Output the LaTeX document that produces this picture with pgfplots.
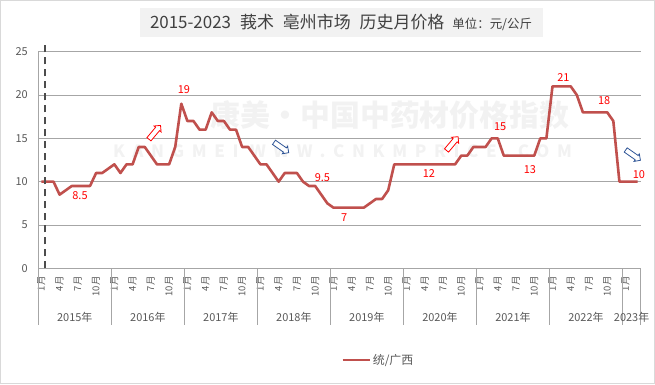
\documentclass[border=0pt]{standalone}
\usepackage{fontspec}
\setmainfont{Noto Sans CJK SC}
\usepackage{pgfplots}
\pgfplotsset{compat=1.18}
\usetikzlibrary{shapes.arrows}
\definecolor{linered}{HTML}{C0504D}
\definecolor{txtgray}{HTML}{595959}
\definecolor{titlegray}{HTML}{404040}
\definecolor{gridgray}{HTML}{A6A6A6}
\definecolor{titlebg}{HTML}{F2F2F2}
\definecolor{arrowblue}{HTML}{2F5597}
\definecolor{wm}{HTML}{F2F2F2}
\begin{document}
\begin{tikzpicture}[x=1bp,y=1bp]
% title box
\fill[titlebg] (101.7,231.3) rectangle (504.7,260.3);
\node[text=titlegray, inner sep=0pt] at (302.7,246.0)
  {{\fontsize{17}{17}\selectfont 2015-2023\hspace{9bp}莪术\hspace{9bp}亳州市场\hspace{9bp}历史月价格}\hspace{8bp}{\fontsize{12.5}{12.5}\selectfont 单位：元/公斤}};
% watermark
\node[text=wm, inner sep=0pt, font=\bfseries\fontsize{30}{30}\selectfont] at (351.7,153.3) {康美·中国中药材价格指数};
\node[text=wm, inner sep=0pt, font=\bfseries\fontsize{17}{17}\selectfont\addfontfeatures{LetterSpace=45}] at (304.2,116.8) {KANGMEI WWW.CNKMPRICE.COM};
\begin{axis}[
  at={(0,0)}, anchor=south west,
  scale only axis, width=602.4bp, height=216.6bp,
  xmin=-0.5, xmax=98.5, ymin=0, ymax=25,
  axis lines=left,
  axis line style={draw=gridgray, line width=0.8bp, -},
  ytick={0,5,10,15,20,25},
  ymajorgrids,
  grid style={gridgray, line width=0.8bp},
  major tick length=0pt,
  /pgf/number format/assume math mode=true,
  yticklabel style={font=\fontsize{11}{11}\selectfont, text=txtgray, xshift=-7bp},
  xtick={0,3,...,96},
  xticklabels={1月,4月,7月,10月,1月,4月,7月,10月,1月,4月,7月,10月,1月,4月,7月,10月,1月,4月,7月,10月,1月,4月,7月,10月,1月,4月,7月,10月,1月,4月,7月,10月,1月},
  xticklabel style={rotate=90, anchor=east, font=\fontsize{9.5}{9.5}\selectfont, text=txtgray, inner sep=0pt},
  xticklabel shift=8bp,
  clip=false,
  legend style={at={(axis description cs:0.5025,-0.4234)}, anchor=west, draw=none, fill=none, font=\fontsize{12}{12}\selectfont, text=txtgray, inner sep=0pt},
  legend image code/.code={\draw[#1] (0bp,0bp) -- (27bp,0bp);},
]
\addplot[linered, line width=2.6bp, line join=round] coordinates {
(0,10)(1,10)(2,10)(3,8.5)(4,9)(5,9.5)(6,9.5)(7,9.5)(8,9.5)(9,11)(10,11)(11,11.5)
(12,12)(13,11)(14,12)(15,12)(16,14)(17,14)(18,13)(19,12)(20,12)(21,12)(22,14)(23,19)
(24,17)(25,17)(26,16)(27,16)(28,18)(29,17)(30,17)(31,16)(32,16)(33,14)(34,14)(35,13)
(36,12)(37,12)(38,11)(39,10)(40,11)(41,11)(42,11)(43,10)(44,9.5)(45,9.5)(46,8.5)(47,7.5)
(48,7)(49,7)(50,7)(51,7)(52,7)(53,7)(54,7.5)(55,8)(56,8)(57,9)(58,12)(59,12)
(60,12)(61,12)(62,12)(63,12)(64,12)(65,12)(66,12)(67,12)(68,12)(69,13)(70,13)(71,14)
(72,14)(73,14)(74,15)(75,15)(76,13)(77,13)(78,13)(79,13)(80,13)(81,13)(82,15)(83,15)
(84,21)(85,21)(86,21)(87,21)(88,20)(89,18)(90,18)(91,18)(92,18)(93,18)(94,17)(95,10)
(96,10)(97,10)(98,10)
};
\addlegendentry{统/广西}
\addplot[forget plot, color=black!70, line width=2.3bp, dash pattern=on 7bp off 5bp] coordinates {(0.6,0) (0.6,26.1)};
% year separators
\pgfplotsinvokeforeach{-0.5,11.5,23.5,35.5,47.5,59.5,71.5,83.5,95.5,98.5}{
  \draw[gridgray, line width=0.8bp] (axis cs:#1,0) -- ([yshift=-57bp]axis cs:#1,0);
}
% year labels
\begin{scope}[every node/.style={font=\fontsize{11}{11}\selectfont, text=txtgray}]
\node at ([yshift=-49bp]axis cs:5.5,0) {2015年};
\node at ([yshift=-49bp]axis cs:17.5,0) {2016年};
\node at ([yshift=-49bp]axis cs:29.5,0) {2017年};
\node at ([yshift=-49bp]axis cs:41.5,0) {2018年};
\node at ([yshift=-49bp]axis cs:53.5,0) {2019年};
\node at ([yshift=-49bp]axis cs:65.5,0) {2020年};
\node at ([yshift=-49bp]axis cs:77.5,0) {2021年};
\node at ([yshift=-49bp]axis cs:89.5,0) {2022年};
\node at ([yshift=-49bp]axis cs:97,0) {2023年};
\end{scope}
% data labels
\begin{scope}[every node/.style={text=red, font=\fontsize{11}{11}\selectfont, inner sep=0pt}]
\node at (axis cs:6.35,8.4) {8.5};
\node at (axis cs:23.44,20.57) {19};
\node at (axis cs:46.2,10.5) {9.5};
\node at (axis cs:49.75,5.8) {7};
\node at (axis cs:63.7,10.96) {12};
\node at (axis cs:75.4,16.34) {15};
\node at (axis cs:80.3,11.42) {13};
\node at (axis cs:85.8,22.04) {21};
\node at (axis cs:92.5,19.34) {18};
\node at (axis cs:98.2,10.77) {10};
\end{scope}
% trend arrows
\begin{scope}[every node/.style={single arrow, fill=white, minimum height=18bp, single arrow head extend=2bp, inner xsep=0pt, inner ysep=2.2bp, line width=0.8bp}]
\node[draw=red, rotate=50] at (axis cs:18.5,15.58) {};
\node[draw=arrowblue, rotate=-35] at (axis cs:39.27,14.03) {};
\node[draw=red, rotate=50] at (axis cs:67.4,14.28) {};
\node[draw=arrowblue, rotate=-35] at (axis cs:97.07,13.15) {};
\end{scope}
\end{axis}
\pgfresetboundingbox
\draw[black!15, line width=1bp] (-37.8,-115.2) rectangle (616.2,267.8);
\useasboundingbox (-38.3,-115.7) rectangle (616.7,268.3);
\end{tikzpicture}
\end{document}
